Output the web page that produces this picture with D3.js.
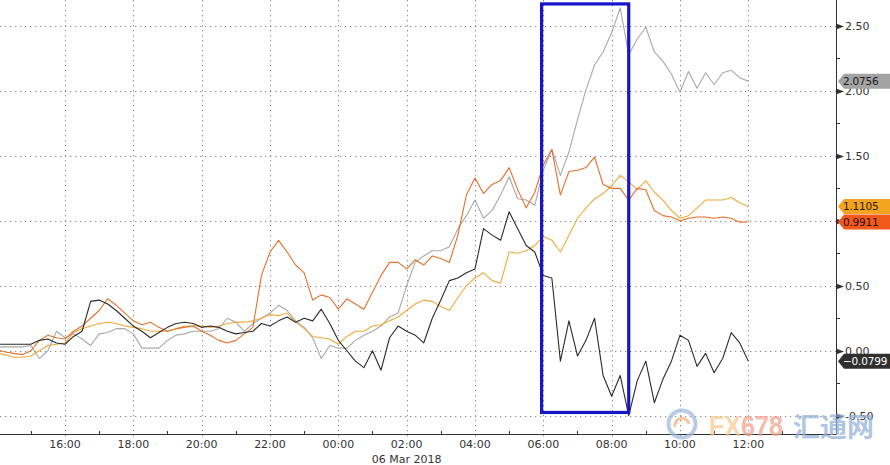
<!DOCTYPE html>
<html><head><meta charset="utf-8">
<script src="https://cdn.jsdelivr.net/npm/d3@7"></script>
<style>html,body{margin:0;padding:0;background:#fff;} svg{display:block;}</style>
</head><body>
<svg id="c" width="890" height="465"></svg>
<script>
// ---- data ----
const times = [
 "14:00","14:15","14:30","14:45","15:00","15:15","15:30","15:45","16:00","16:15",
 "16:30","16:45","17:00","17:15","17:30","17:45","18:00","18:15","18:30","18:45",
 "19:00","19:15","19:30","19:45","20:00","20:15","20:30","20:45","21:00","21:15",
 "21:30","21:45","22:00","22:15","22:30","22:45","23:00","23:15","23:30","23:45",
 "00:00","00:15","00:30","00:45","01:00","01:15","01:30","01:45","02:00","02:15",
 "02:30","02:45","03:00","03:15","03:30","03:45","04:00","04:15","04:30","04:45",
 "05:00","05:15","05:30","05:45","06:00","06:15","06:30","06:45","07:00","07:15",
 "07:30","07:45","08:00","08:15","08:30","08:45","09:00","09:15","09:30","09:45",
 "10:00","10:15","10:30","10:45","11:00","11:15","11:30","11:45","12:00"];

const grayValues = [0.03,0.03,0.03,0.03,0.04,-0.06,0.00,0.15,0.10,0.13,
 0.09,0.04,0.13,0.14,0.17,0.17,0.13,0.02,0.02,0.02,
 0.08,0.12,0.13,0.15,0.15,0.15,0.17,0.25,0.22,0.15,
 0.21,0.25,0.29,0.35,0.31,0.23,0.18,0.10,-0.06,0.04,
 0.02,0.02,0.08,0.12,0.15,0.19,0.26,0.29,0.50,0.68,
 0.73,0.77,0.77,0.80,0.94,1.04,1.16,1.02,1.08,1.20,
 1.34,1.17,1.16,1.12,1.39,1.55,1.35,1.53,1.78,2.01,
 2.20,2.30,2.45,2.64,2.28,2.40,2.49,2.30,2.23,2.13,
 1.99,2.15,2.02,2.14,2.05,2.14,2.16,2.10,2.0756];

const goldValues = [-0.02,-0.03,-0.05,-0.05,-0.04,0.00,0.04,0.05,0.06,0.14,
 0.17,0.19,0.21,0.22,0.21,0.19,0.18,0.17,0.15,0.15,
 0.15,0.17,0.19,0.19,0.19,0.18,0.19,0.21,0.22,0.22,
 0.23,0.25,0.28,0.27,0.29,0.22,0.17,0.11,0.10,0.09,
 0.05,0.11,0.15,0.15,0.19,0.20,0.23,0.26,0.31,0.36,
 0.39,0.38,0.34,0.31,0.41,0.50,0.56,0.60,0.54,0.52,
 0.76,0.75,0.77,0.81,0.88,0.85,0.76,0.89,1.02,1.10,
 1.17,1.21,1.27,1.35,1.30,1.24,1.31,1.22,1.16,1.08,
 1.02,1.04,1.10,1.16,1.16,1.16,1.18,1.14,1.1105];

const orangeValues = [0.01,-0.01,-0.02,-0.03,0.00,0.08,0.12,0.10,0.09,0.15,
 0.19,0.25,0.31,0.40,0.35,0.29,0.23,0.20,0.22,0.18,
 0.15,0.17,0.18,0.19,0.15,0.12,0.08,0.06,0.08,0.13,
 0.18,0.58,0.76,0.85,0.76,0.66,0.60,0.39,0.43,0.41,
 0.32,0.40,0.36,0.32,0.45,0.58,0.68,0.68,0.63,0.70,
 0.66,0.73,0.71,0.68,0.89,1.20,1.33,1.21,1.28,1.31,
 1.41,1.24,1.10,1.22,1.43,1.55,1.20,1.38,1.39,1.41,
 1.49,1.28,1.25,1.25,1.16,1.25,1.24,1.08,1.04,1.03,
 1.00,1.02,1.03,1.03,1.02,1.03,1.02,0.99,0.9911];

const blackValues = [0.05,0.05,0.05,0.05,0.05,0.08,0.09,0.06,0.05,0.11,
 0.15,0.38,0.39,0.36,0.31,0.25,0.19,0.15,0.10,0.14,
 0.18,0.21,0.22,0.21,0.18,0.19,0.18,0.15,0.13,0.14,
 0.15,0.21,0.19,0.23,0.26,0.22,0.25,0.23,0.32,0.21,
 0.08,0.00,-0.08,-0.13,0.00,-0.15,0.10,0.19,0.15,0.12,
 0.06,0.25,0.39,0.54,0.56,0.60,0.63,0.94,0.89,0.85,
 1.07,0.94,0.81,0.76,0.58,0.56,-0.08,0.23,-0.04,0.08,
 0.25,-0.19,-0.35,-0.19,-0.50,-0.23,-0.08,-0.40,-0.22,-0.08,
 0.12,0.08,-0.12,-0.02,-0.17,-0.06,0.14,0.06,-0.0799];

const xTickLabels = ["16:00","18:00","20:00","22:00","00:00","02:00","04:00","06:00","08:00","10:00","12:00"];
const yTickValues = [-0.5,0,0.5,1,1.5,2,2.5];
const yTickLabels = ["-0.50","0.00","0.50","1.00","1.50","2.00","2.50"];
const dateLabel = "06 Mar 2018";
const dateLabelAt = "02:00";
const highlightTimes = ["05:57","08:30"];
const highlightValues = [-0.475, 2.67];

// ---- helpers ----
function parseSeq(list, startDay){
  let day = startDay, prev = -1;
  return list.map(s => { const [h,m] = s.split(":").map(Number); if (h < prev) day++; prev = h; return new Date(2018,2,day,h,m); });
}
const dates = parseSeq(times, 5);
const tickDates = parseSeq(xTickLabels, 5);
const hiDates = parseSeq(highlightTimes, 6);

const plotR = 836, plotB = 434;
const x0 = d3.scaleTime().domain([new Date(2018,2,5,16), new Date(2018,2,6,12)]).range([65,748.3]);
const x = d3.scaleTime().domain([x0.invert(0), x0.invert(plotR)]).range([0, plotR]);
const y = d3.scaleLinear().domain([-0.5,2.5]).range([415.7,26]);

const svg = d3.select("#c");
svg.append("rect").attr("width",890).attr("height",465).attr("fill","#fff");
svg.append("defs").append("clipPath").attr("id","clip")
  .append("rect").attr("x",0).attr("y",0).attr("width",plotR).attr("height",plotB);

// grid
const grid = svg.append("g").attr("stroke","#8a8a8a").attr("stroke-width",1).attr("stroke-dasharray","1.3,3.7");
grid.selectAll("line.h").data(yTickValues).join("line")
  .attr("x1",0).attr("x2",plotR).attr("y1",d=>Math.round(y(d))+0.5).attr("y2",d=>Math.round(y(d))+0.5);
grid.selectAll("line.v").data(tickDates).join("line")
  .attr("x1",d=>Math.round(x(d))+0.5).attr("x2",d=>Math.round(x(d))+0.5).attr("y1",0).attr("y2",plotB+6);

// series
const series = [
  {vals: grayValues, color:"#a9a9a9", tag:"#a3a3a3", text:"#1a1a1a"},
  {vals: goldValues, color:"#f1a93a", tag:"#f5a421", text:"#2a1a00"},
  {vals: orangeValues, color:"#e5702b", tag:"#f15a1a", text:"#2a0c00"},
  {vals: blackValues, color:"#2b2b2b", tag:"#2f2f2f", text:"#ffffff"}
];
const line = d3.line().x((d,i)=>x(dates[i])).y(d=>y(d));
const lg = svg.append("g").attr("clip-path","url(#clip)");
series.forEach(s => {
  lg.append("path").datum(s.vals).attr("d", line).attr("fill","none")
    .attr("stroke", s.color).attr("stroke-width",1.1).attr("stroke-linejoin","round");
});

// highlight box
svg.append("rect")
  .attr("x", x(hiDates[0])).attr("y", y(highlightValues[1]))
  .attr("width", x(hiDates[1]) - x(hiDates[0]))
  .attr("height", y(highlightValues[0]) - y(highlightValues[1]))
  .attr("fill","none").attr("stroke","#1616c8").attr("stroke-width",3.2);

// axes lines
svg.append("line").attr("x1",0).attr("x2",plotR+0.5).attr("y1",plotB+0.5).attr("y2",plotB+0.5).attr("stroke","#333");
svg.append("line").attr("x1",plotR+0.5).attr("x2",plotR+0.5).attr("y1",0).attr("y2",plotB+0.5).attr("stroke","#333");

// x minor ticks (odd hours)
const minor = d3.timeHour.every(1).range(x.domain()[0], x.domain()[1]).filter(d => d.getHours() % 2 === 1);
svg.selectAll("line.mx").data(minor).join("line")
  .attr("x1",d=>Math.round(x(d))+0.5).attr("x2",d=>Math.round(x(d))+0.5)
  .attr("y1",plotB-3).attr("y2",plotB).attr("stroke","#333");

// x labels
svg.selectAll("text.xl").data(tickDates).join("text")
  .attr("x",d=>x(d)).attr("y",448).attr("text-anchor","middle")
  .attr("font-family","DejaVu Sans, Verdana, sans-serif").attr("font-size",11).attr("fill","#333")
  .text((d,i)=>xTickLabels[i]);
svg.append("text").attr("x", x(tickDates[xTickLabels.indexOf(dateLabelAt)])).attr("y",463)
  .attr("text-anchor","middle").attr("font-family","DejaVu Sans, Verdana, sans-serif")
  .attr("font-size",11).attr("fill","#333").text(dateLabel);

// y ticks
const minorY = d3.range(-0.25, 2.6, 0.5);
svg.selectAll("line.my").data(minorY).join("line")
  .attr("x1",plotR).attr("x2",plotR+4).attr("y1",d=>Math.round(y(d))+0.5).attr("y2",d=>Math.round(y(d))+0.5)
  .attr("stroke","#333");
svg.selectAll("path.ty").data(yTickValues).join("path")
  .attr("d", d => { const yy = Math.round(y(d))+0.5; return `M${plotR},${yy-3}L${plotR+8},${yy}L${plotR},${yy+3}Z`; })
  .attr("fill","#333");
svg.selectAll("text.yl").data(yTickValues).join("text")
  .attr("x",plotR+9).attr("y",d=>y(d)+4)
  .attr("font-family","DejaVu Sans, Verdana, sans-serif").attr("font-size",11).attr("fill","#333")
  .text((d,i)=>yTickLabels[i]);

// last value tags
series.forEach(s => {
  const v = s.vals[s.vals.length-1];
  const yy = y(v);
  svg.append("path")
    .attr("d", `M${plotR+2},${yy}L${plotR+8},${yy-7.5}L890,${yy-7.5}L890,${yy+7.5}L${plotR+8},${yy+7.5}Z`)
    .attr("fill", s.tag);
  svg.append("text").attr("x",plotR+7).attr("y",yy+4)
    .attr("font-family","DejaVu Sans, Verdana, sans-serif").attr("font-size",10.5).attr("fill",s.text)
    .attr("letter-spacing",-0.2)
    .text(d3.format(".4f")(v));
});

// watermark
const wm = svg.append("g").attr("opacity",0.72);
wm.append("circle").attr("cx",682).attr("cy",424).attr("r",13.5).attr("fill","none").attr("stroke","#9fb8dc").attr("stroke-width",4);
wm.append("path").attr("d","M675,427 A7,7 0 1 1 689,424").attr("fill","none").attr("stroke","#f2b07a").attr("stroke-width",3);
const fx = wm.append("text").attr("x",709).attr("y",436).attr("font-family","Liberation Sans, Arial, sans-serif")
  .attr("font-weight","bold").attr("font-size",30).attr("textLength",74).attr("lengthAdjust","spacingAndGlyphs");
fx.append("tspan").attr("fill","#f9c98e").text("FX");
fx.append("tspan").attr("fill","#f3a08a").text("678");
wm.append("text").attr("x",793).attr("y",437).attr("font-family","Noto Sans CJK SC, sans-serif")
  .attr("font-weight","bold").attr("font-size",27).attr("fill","#93b0d8").text("汇通网");
</script>
</body></html>
